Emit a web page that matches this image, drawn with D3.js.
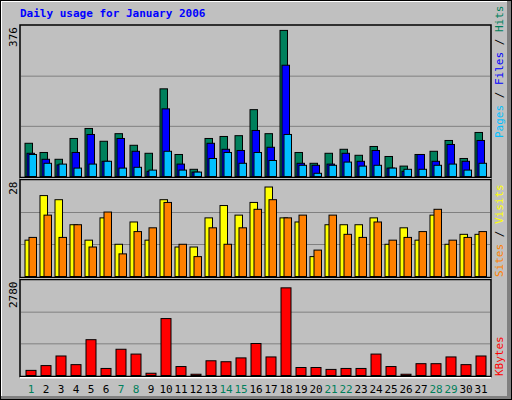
<html>
<head>
<meta charset="utf-8">
<script src="https://d3js.org/d3.v7.min.js"></script>
<style>body{margin:0;background:#fff}</style>
</head>
<body>
<script>
var days = d3.range(1, 32)
var weekends = [1, 7, 8, 14, 15, 21, 22, 28, 29]
var hits  = [83,60,43,95,120,88,107,78,58,219,55,18,95,100,102,167,107,365,60,33,58,68,53,75,50,26,55,63,90,45,110]
var files = [58,43,29,60,105,38,95,63,13,169,31,11,83,68,65,115,73,278,33,28,31,58,38,65,21,13,55,38,80,38,90]
var pages = [55,33,31,21,31,38,21,23,16,63,16,11,45,60,33,60,40,105,28,8,28,36,26,28,21,18,18,28,31,16,33]
var visits = [10.6,23.6,22.4,15.1,10.6,17.1,9.4,15.9,10.6,22.4,8.6,8.6,17.1,20.7,17.9,21.6,26.1,17.1,15.9,5.8,15.1,15.1,15.1,17.1,9.4,14.2,10.6,17.9,9.4,12.3,12.3]
var sites  = [11.4,17.9,11.4,15.1,8.6,18.8,6.6,13.1,14.2,21.6,9.4,5.8,14.2,9.4,14.2,19.6,22.4,17.1,17.9,7.7,17.9,12.3,11.4,15.9,10.6,11.4,13.1,19.6,10.6,11.4,13.1]
var kbytes = [150,290,571,318,1048,206,768,627,66,1666,262,37,431,403,515,936,543,2565,234,234,178,206,206,627,262,37,346,346,543,318,571]

var svg = d3.select("body").append("svg").attr("width", 512).attr("height", 400)
  .style("font-family", "DejaVu Sans Mono, monospace")
svg.append("rect").attr("width", 512).attr("height", 400).attr("fill", "#c0c0c0")
svg.append("rect").attr("x", 0).attr("y", 0).attr("width", 512).attr("height", 2).attr("fill", "#fff")
svg.append("rect").attr("x", 0).attr("y", 0).attr("width", 2).attr("height", 400).attr("fill", "#fff")
svg.append("rect").attr("x", 507).attr("y", 0).attr("width", 5).attr("height", 400).attr("fill", "#808080")
svg.append("rect").attr("x", 0).attr("y", 396).attr("width", 512).attr("height", 4).attr("fill", "#808080")
svg.append("rect").attr("x", 0.5).attr("y", 0.5).attr("width", 511).attr("height", 399).attr("fill", "none").attr("stroke", "#000")

svg.append("text").attr("x", 20).attr("y", 17).attr("fill", "#0000ff")
  .attr("font-weight", "bold").attr("font-size", 11).text("Daily usage for January 2006")

var x = d3.scaleLinear().domain([1, 31]).range([25, 475])

function panel(top, bottom, max, series, labels, labelY) {
  var y = d3.scaleLinear().domain([0, max]).range([bottom, top])
  var g = svg.append("g")
  g.append("rect").attr("x", 20).attr("y", top - 1).attr("width", 471).attr("height", bottom - top + 2)
    .attr("fill", "none").attr("stroke", "#000").attr("stroke-width", 1.5)
  g.append("rect").attr("x", 20).attr("y", bottom + 1.5).attr("width", 471).attr("height", 1.5).attr("fill", "#fff")
  ;[max / 3, max * 2 / 3].forEach(function(v) {
    g.append("line").attr("x1", 21).attr("x2", 490).attr("y1", y(v)).attr("y2", y(v)).attr("stroke", "#808080")
  })
  series.forEach(function(s) {
    g.selectAll(null).data(s.data).enter().append("rect")
      .attr("x", function(d, i) { return x(days[i]) + s.off })
      .attr("y", function(d) { return y(d) })
      .attr("width", s.w)
      .attr("height", function(d) { return bottom - y(d) })
      .attr("fill", s.color).attr("stroke", "#000")
  })
  g.append("text").attr("transform", "translate(17," + (top + 1) + ") rotate(-90)")
    .attr("text-anchor", "end").attr("font-size", 11).text(max)
  var t = g.append("text").attr("transform", "translate(503," + labelY + ") rotate(-90)")
    .attr("font-size", 11)
  labels.forEach(function(l, i) {
    if (i) t.append("tspan").attr("fill", "#000").text(" / ")
    t.append("tspan").attr("fill", l[1]).text(l[0])
  })
}

panel(26, 176.5, 376, [
  {data: hits, color: "#00805c", off: 0, w: 7.5},
  {data: files, color: "#0000ff", off: 2, w: 7.5},
  {data: pages, color: "#00c0ff", off: 4, w: 7.5}
], [["Pages", "#00c0ff"], ["Files", "#0000ff"], ["Hits", "#00805c"]], 138)

panel(180.5, 276.5, 28, [
  {data: visits, color: "#ffff00", off: 0, w: 7.5},
  {data: sites, color: "#ff8000", off: 4, w: 7.5}
], [["Sites", "#ff8000"], ["Visits", "#ffff00"]], 277)

panel(280.5, 375.5, 2780, [
  {data: kbytes, color: "#ff0000", off: 1, w: 10}
], [["KBytes", "#ff0000"]], 376)

svg.selectAll(".day").data(days).enter().append("text")
  .attr("x", function(d) { return x(d) + 6 }).attr("y", 393)
  .attr("text-anchor", "middle").attr("font-size", 11)
  .attr("fill", function(d) { return weekends.indexOf(d) >= 0 ? "#00805c" : "#000" })
  .text(function(d) { return d })
</script>
</body>
</html>
